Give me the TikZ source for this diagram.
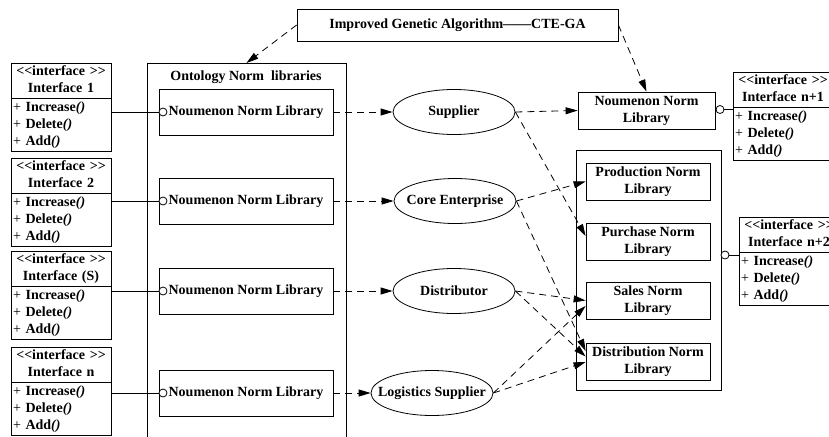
\documentclass[tikz,border=0pt]{standalone}
\usepackage{fontspec}
\setmainfont{Liberation Serif}
\usetikzlibrary{shapes.geometric,shapes.multipart,arrows.meta}

% interface box text: header part, then the three operations
\newcommand{\ifacerows}[1]{%
  \centering\strut<\kern0pt<interface >\kern0pt>\\\strut #1\par
  \nodepart{second}\strut{\mdseries+} Increase\textit{()}\\
  \strut{\mdseries+} Delete\textit{()}\\
  \strut{\mdseries+} Add\textit{()}}
\newcommand{\rolename}[1]{\makebox[0pt]{#1}}

\tikzset{
  txt/.style={font=\fontsize{14}{17}\selectfont\bfseries},
  iface/.style={txt, draw, rectangle split, rectangle split parts=2,
    text width=96pt, inner xsep=2pt, inner ysep=0.25pt, align=left, anchor=north},
  libbox/.style={txt, draw, minimum width=174pt, minimum height=46pt, inner sep=0},
  normbox/.style={txt, draw, minimum width=124pt, minimum height=37pt,
    align=center, inner sep=0},
  role/.style={txt, draw, ellipse, minimum width=122pt, minimum height=45pt, inner sep=0},
  port/.style={draw, circle, fill=white, minimum size=8pt, inner sep=0},
  dep/.style={dash pattern=on 7pt off 5pt, -{Triangle[length=12pt,width=7pt]}},
}

\begin{document}
\begin{tikzpicture}[x=1pt, y=-1pt, line width=0.8pt]
  \useasboundingbox (0,0) rectangle (829,436);
  \clip (0,0) rectangle (829,436);

  % algorithm
  \node[txt, draw, minimum width=321pt, minimum height=32pt, inner sep=0]
    (ga) at (457.5,25) {Improved Genetic Algorithm——CTE-GA};

  % ontology libraries
  \node[draw, minimum width=199pt, minimum height=400pt, inner sep=0, anchor=north]
    (onto) at (246.5,63) {};
  \node[txt] (ontotitle) at (246,77) {Ontology Norm~ libraries};
  \foreach \i/\y in {1/112, 2/201, 3/291, 4/393} {
    \node[libbox] (lib\i) at (246,\y) {Noumenon Norm Library};
    \node[port] (lp\i) at (163,\y) {};
  }

  % left interfaces
  \node[iface] (if1) at (61,63) {\ifacerows{Interface 1}};
  \node[iface] (if2) at (61,158) {\ifacerows{Interface 2}};
  \node[iface] (if3) at (61,251) {\ifacerows{Interface (S)}};
  \node[iface] (if4) at (61,347) {\ifacerows{Interface n}};
  \foreach \i in {1,...,4}
    \draw (lp\i.west) -- (lp\i.west -| if\i.east);

  % supply chain roles
  \node[role] (sup) at (454,112) {\rolename{Supplier}};
  \node[role] (core) at (455,201) {\rolename{Core Enterprise}};
  \node[role] (dist) at (454,291) {\rolename{Distributor}};
  \node[role] (logi) at (432,393) {\rolename{Logistics Supplier}};

  % right libraries
  \node[normbox, minimum width=137pt] (rnl) at (646.5,110.5) {Noumenon Norm\\Library};
  \node[draw, minimum width=145pt, minimum height=240pt, inner sep=0]
    (normset) at (648.5,270) {};
  \node[normbox] (prod) at (648,181.5) {Production Norm\\Library};
  \node[normbox] (purch) at (648,241.5) {Purchase Norm\\Library};
  \node[normbox] (sales) at (648,300.5) {Sales Norm\\Library};
  \node[normbox] (distn) at (648,362) {Distribution Norm\\Library};

  % right interfaces
  \node[port] (rp1) at (720,109.5) {};
  \node[port] (rp2) at (725,255) {};
  \node[iface] (ifn1) at (783,72) {\ifacerows{Interface n+1}};
  \node[iface] (ifn2) at (789,217) {\ifacerows{Interface n+2}};
  \draw (rnl.east) -- (rp1.west);
  \draw (rp1.east) -- (rp1.east -| ifn1.west);
  \draw (rp2.east) -- (rp2.east -| ifn2.west);

  % dependencies
  \draw[dep] (ga.west) -- (onto.north);
  \draw[dep] (ga.east) -- (rnl.north);
  \draw[dep] (lib1.east) -- (sup.west);
  \draw[dep] (lib2.east) -- (core.west);
  \draw[dep] (lib3.east) -- (dist.west);
  \draw[dep] (lib4.east) -- (logi.west);
  \draw[dep] (sup.east) -- (rnl.west);
  \draw[dep] (sup.east) -- (purch.175);
  \draw[dep] (core.east) -- (prod.west);
  \draw[dep] (core.east) -- (distn.170);
  \draw[dep] (dist.east) -- (sales.west);
  \draw[dep] (dist.east) -- (distn.175);
  \draw[dep] (logi.east) -- (sales.185);
  \draw[dep] (logi.east) -- (distn.west);
\end{tikzpicture}
\end{document}
